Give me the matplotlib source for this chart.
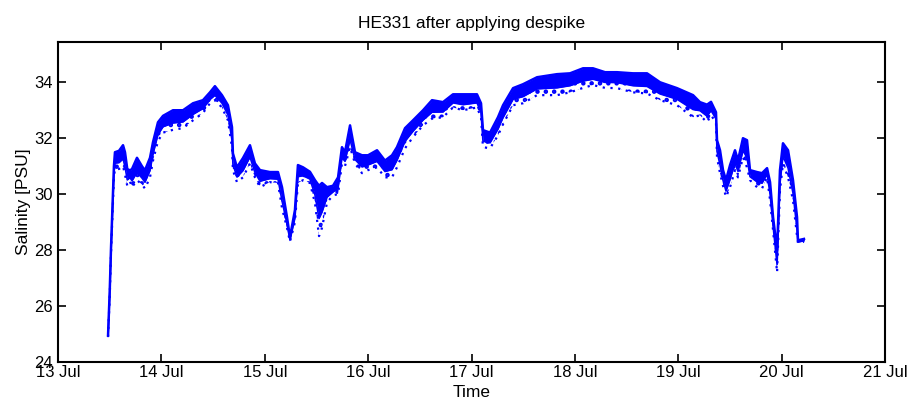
import matplotlib
matplotlib.use('Agg')
import matplotlib.pyplot as plt
import numpy as np

# time in days of July, upper and lower edge of the salinity band (PSU)
days = [13.484, 13.500, 13.513, 13.541, 13.551, 13.590, 13.629, 13.648, 13.670,
        13.696, 13.716, 13.764, 13.812, 13.841, 13.890, 13.919, 13.967, 14.016,
        14.112, 14.209, 14.306, 14.402, 14.470, 14.518, 14.586, 14.644, 14.683,
        14.692, 14.731, 14.789, 14.857, 14.905, 14.954, 15.050, 15.128, 15.167,
        15.215, 15.244, 15.292, 15.321, 15.370, 15.437, 15.486, 15.525, 15.554,
        15.602, 15.660, 15.709, 15.747, 15.776, 15.825, 15.873, 15.941, 15.999,
        16.086, 16.163, 16.231, 16.279, 16.357, 16.434, 16.531, 16.618, 16.724,
        16.821, 16.918, 17.053, 17.092, 17.111, 17.179, 17.256, 17.305, 17.402,
        17.498, 17.634, 17.827, 17.953, 18.079, 18.175, 18.292, 18.408, 18.562,
        18.698, 18.824, 18.988, 19.143, 19.210, 19.278, 19.317, 19.365, 19.375,
        19.404, 19.433, 19.462, 19.501, 19.549, 19.578, 19.626, 19.665, 19.694,
        19.762, 19.810, 19.859, 19.888, 19.917, 19.956, 19.984, 20.013, 20.062,
        20.110, 20.149, 20.158, 20.216]
upper = [24.95, 26.5, 28.1, 31.0, 31.5, 31.55, 31.75, 31.5, 30.9,
         30.85, 30.9, 31.3, 31.0, 30.85, 31.3, 31.86, 32.57, 32.8,
         33.0, 33.0, 33.25, 33.36, 33.64, 33.86, 33.54, 33.18, 32.4,
         31.46, 30.96, 31.29, 31.75, 31.1, 30.86, 30.79, 30.79, 30.25,
         29.18, 28.46, 29.43, 31.04, 30.96, 30.8, 30.5, 30.3, 30.4,
         30.25, 30.3, 30.6, 31.68, 31.5, 32.46, 31.5, 31.39, 31.39,
         31.57, 31.2, 31.39, 31.68, 32.36, 32.64, 33.0, 33.36, 33.29,
         33.57, 33.57, 33.57, 33.25, 32.29, 32.2, 32.75, 33.18, 33.79,
         33.93, 34.18, 34.29, 34.32, 34.5, 34.5, 34.36, 34.36, 34.32,
         34.32, 34.0, 33.79, 33.54, 33.29, 33.2, 33.3, 32.93, 31.93,
         31.57, 30.86, 30.5, 31.04, 31.57, 31.21, 32.0, 31.93, 30.86,
         30.79, 30.75, 30.93, 30.43, 29.18, 28.0, 30.86, 31.82, 31.57,
         30.5, 29.18, 28.35, 28.4]
lower = [24.9, 26.3, 27.9, 30.6, 30.9, 30.9, 31.0, 30.7, 30.3,
         30.45, 30.25, 30.5, 30.35, 30.2, 30.6, 31.2, 31.9, 32.2,
         32.3, 32.36, 32.64, 32.9, 33.25, 33.36, 33.1, 32.64, 31.68,
         30.86, 30.43, 30.6, 31.1, 30.6, 30.25, 30.43, 30.4, 29.5,
         28.8, 28.3, 29.0, 30.4, 30.5, 30.4, 29.68, 28.5, 28.8,
         29.7, 29.96, 30.0, 31.1, 31.0, 31.68, 31.1, 30.75, 30.86,
         30.96, 30.6, 30.6, 30.96, 31.64, 32.04, 32.46, 32.7, 32.75,
         33.1, 33.0, 33.1, 32.75, 31.68, 31.64, 32.1, 32.5, 33.18,
         33.25, 33.54, 33.54, 33.64, 33.8, 33.9, 33.8, 33.79, 33.64,
         33.6, 33.36, 33.18, 32.75, 32.82, 32.57, 32.82, 32.57, 31.32,
         30.75, 30.3, 29.9, 30.25, 30.86, 30.6, 31.32, 30.96, 30.5,
         30.25, 30.2, 30.6, 29.79, 28.71, 27.2, 30.14, 31.1, 30.6,
         29.79, 28.5, 28.25, 28.3]

tick_days = [13, 14, 15, 16, 17, 18, 19, 20, 21]
tick_labels = ['13 Jul', '14 Jul', '15 Jul', '16 Jul', '17 Jul',
               '18 Jul', '19 Jul', '20 Jul', '21 Jul']
sal_ticks = [24, 26, 28, 30, 32, 34]

plt.rcParams['font.family'] = ['Liberation Sans', 'DejaVu Sans']
plt.rcParams['font.size'] = 12
plt.rcParams['hatch.linewidth'] = 2.0

up = np.array(upper)
lo = np.array(lower)
# dense core of the band is the top part, the rest is scattered dots
core = up - 0.65 * (up - lo)

fig = plt.figure(figsize=(9.12, 4.05), dpi=100)
ax = fig.add_axes([0.0636, 0.1062, 0.9068, 0.7901])

ax.fill_between(days, core, up, color='#0000ff', linewidth=0)
ax.fill_between(days, lo, core, facecolor='none', edgecolor='#0000ff',
                hatch='..', linewidth=0)
ax.plot(days, upper, color='#0000ff', linewidth=1.8)
ax.plot(days, core, color='#0000ff', linewidth=1.2)
ax.plot(days, lower, color='#0000ff', linewidth=1.6, linestyle=(0, (1, 2.5)))

ax.set_xlim(13, 21)
ax.set_ylim(24, 35.44)
ax.set_xticks(tick_days)
ax.set_xticklabels(tick_labels)
ax.set_yticks(sal_ticks)
ax.tick_params(direction='in', length=6, width=1.2, top=True, right=True,
               labelsize=12, pad=4, color='black')
ax.tick_params(axis='x', pad=2)
for s in ax.spines.values():
    s.set_linewidth(1.5)

ax.set_title('HE331 after applying despike', fontsize=12.5, pad=10)
ax.set_xlabel('Time', fontsize=12.5, labelpad=4)
ax.set_ylabel('Salinity [PSU]', fontsize=12.5, labelpad=2)

plt.savefig('out.png', dpi=100)
